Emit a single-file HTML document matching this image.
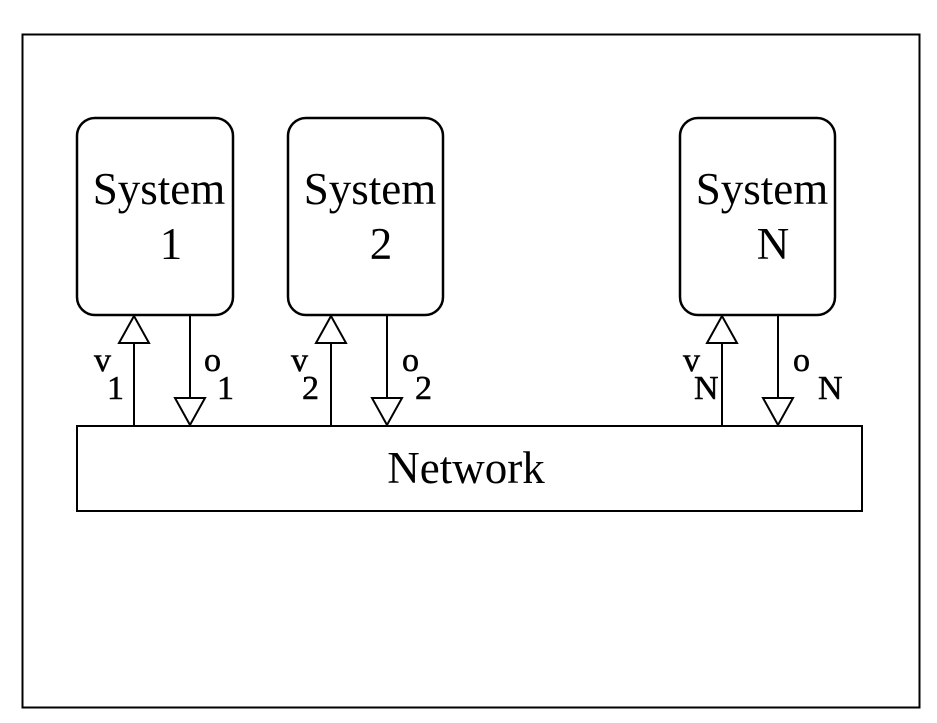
<!DOCTYPE html>
<html><head><style>
html,body{margin:0;padding:0;background:#fff;}
svg{display:block;}
text{font-family:"Liberation Serif",serif;fill:#000;}
</style></head><body>
<svg width="937" height="723" viewBox="0 0 937 723">
<rect x="0" y="0" width="937" height="723" fill="#fff"/>
<rect x="22.5" y="34.5" width="897" height="673" fill="none" stroke="#000" stroke-width="2"/>
<g fill="none" stroke="#000" stroke-width="2.5">
<rect x="77" y="118" width="156" height="197" rx="18"/>
<rect x="288" y="118" width="155" height="197" rx="18"/>
<rect x="680" y="118" width="155" height="197" rx="18"/>
</g>
<rect x="77" y="426" width="785" height="85" fill="none" stroke="#000" stroke-width="2"/>
<g font-size="45" text-anchor="middle">
<text x="159" y="204">System</text><text x="171" y="259">1</text>
<text x="370" y="204">System</text><text x="381" y="259">2</text>
<text x="762" y="204">System</text><text x="773" y="259">N</text>
</g>
<text x="466" y="483" font-size="45" text-anchor="middle">Network</text>
<g stroke="#000" stroke-width="2" fill="#fff">
<line x1="134" y1="315" x2="134" y2="426"/><polygon points="134,316 119,343 149,343"/>
<line x1="190" y1="315" x2="190" y2="426"/><polygon points="190,425 175,398 205,398"/>
<line x1="331" y1="315" x2="331" y2="426"/><polygon points="331,316 316,343 346,343"/>
<line x1="387" y1="315" x2="387" y2="426"/><polygon points="387,425 372,398 402,398"/>
<line x1="722" y1="315" x2="722" y2="426"/><polygon points="722,316 707,343 737,343"/>
<line x1="778" y1="315" x2="778" y2="426"/><polygon points="778,425 763,398 793,398"/>
</g>
<g font-size="34" stroke="#000" stroke-width="0.5">
<text x="94" y="371">v</text><text x="107" y="399">1</text>
<text x="204" y="371">o</text><text x="217" y="399">1</text>
<text x="291" y="371">v</text><text x="302" y="399">2</text>
<text x="402" y="371">o</text><text x="415" y="399">2</text>
<text x="683" y="371">v</text><text x="694" y="399">N</text>
<text x="793" y="371">o</text><text x="818" y="399">N</text>
</g>
</svg>
</body></html>
